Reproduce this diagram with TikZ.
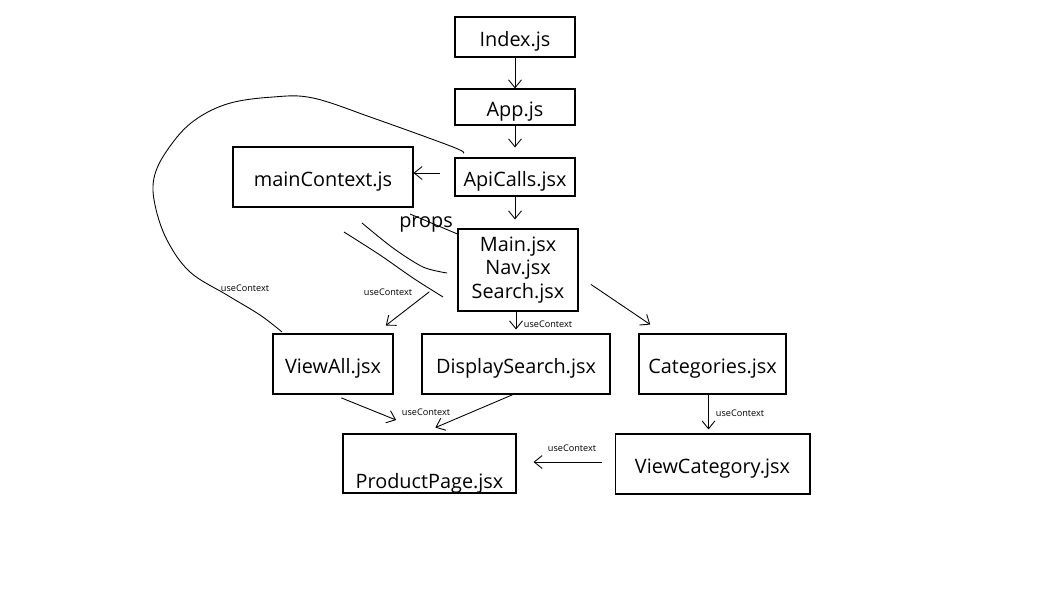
\documentclass[tikz,border=0pt]{standalone}
\usepackage{fontspec}
\setmainfont{Open Sans}
\usepackage{tikz}
\usetikzlibrary{arrows.meta,calc}

\begin{document}
\begin{tikzpicture}[x=0.02cm,y=-0.02cm]
\tikzset{
	file node/.style = {draw, line width=0.6pt, inner sep=0, font=\fontsize{11.3}{13.6}\selectfont,
		text height=1.25em, text depth=0.2em, minimum height=1.2cm},
	link/.style = {line width=0.5pt, -{Straight Barb[length=1.6mm,width=2.6mm]}},
	scribble/.style = {line width=0.5pt},
	tag/.style = {font=\fontsize{5.2}{6}\selectfont, inner sep=0},
}
\useasboundingbox (0,0) rectangle (1057,606);

\node(index)[file node, minimum width=2.4cm, minimum height=0.8cm] at (515,37) {Index.js};
\node(app)[file node, minimum width=2.4cm, minimum height=0.72cm] at (515,107) {App.js};
\node(api)[file node, minimum width=2.4cm, minimum height=0.76cm] at (515,177) {ApiCalls.jsx};
\node(ctx)[file node, minimum width=3.6cm] at (323,177) {mainContext.js};
\node(main)[file node, text height=, text depth=, minimum width=2.4cm, minimum height=1.64cm, align=center]
	at (518,270) {Main.jsx\\Nav.jsx\\Search.jsx};
\node(all)[file node, minimum width=2.4cm] at (333,364) {ViewAll.jsx};
\node(disp)[file node, minimum width=3.76cm] at (516,364) {DisplaySearch.jsx};
\node(cat)[file node, minimum width=2.94cm] at (712.5,364) {Categories.jsx};
\node(prod)[file node, minimum width=3.46cm, minimum height=1.18cm] at (429.5,463.5) {};
\node(prodtext)[font=\fontsize{11.3}{13.6}\selectfont, anchor=base, inner sep=0] at (429.5,488) {ProductPage.jsx};
\node(vcat)[file node, minimum width=3.9cm] at (712.5,464) {ViewCategory.jsx};

\draw[link] (index) -- (app);
\draw[link, shorten >=0.2cm] (app) -- (api);
\draw[link, shorten <=0.28cm] (api.west |- 0,173) -- (ctx.east |- 0,173);
\draw[link, shorten >=0.18cm] (api.south) -- (api.south |- main.north);
\draw[link, shorten <=0.71cm, shorten >=0.26cm] (main.west) -- ([xshift=-0.36cm]all.north east);
\draw[link, shorten >=0.08cm] (main.south -| disp.north) -- (disp.north);
\draw[link, shorten <=0.3cm, shorten >=0.32cm] ([yshift=-0.12cm]main.east) -- ([xshift=0.5cm]cat.north west);
\draw[link, shorten <=0.18cm, shorten >=0.72cm] (all.south) -- (prod.north);
\draw[link, shorten >=0.3cm] ([xshift=-0.06cm]disp.south) -- ([xshift=-0.16cm]prod.north);
\draw[link, shorten >=0.08cm] ([xshift=-0.08cm]cat.south) -- ([xshift=-0.08cm]vcat.north);
\draw[link, shorten <=0.26cm, shorten >=0.34cm] (vcat.west |- 0,462) -- (prod.east |- 0,462);

\draw[scribble] ([xshift=0.16cm,yshift=0.06cm]api.north west) plot[smooth, tension=0.6] coordinates
	{(463,153) (453,147) (373,118) (313,98) (273,97) (227,104) (191,123) (166,152) (154,178)
	 (155,205) (167,240) (190,272) (227,295) (260,315) (282,332)};
\draw[scribble] plot[smooth] coordinates {(362,223) (393,248) (423,267) (447,273)};
\draw[scribble] plot[smooth] coordinates {(344,232) (380,255) (413,278) (443,297)};
\node(props)[font=\fontsize{11.3}{13.6}\selectfont, anchor=base, inner sep=0] at (426,227) {props};
\draw[scribble] (410,214) -- (main.west |- 0,234);

\foreach \p [count=\i] in {(245,288),(388,292),(548,324),(426,412),(740,413),(572,448)}
	\node(uc\i)[tag] at \p {useContext};

\end{tikzpicture}
\end{document}
